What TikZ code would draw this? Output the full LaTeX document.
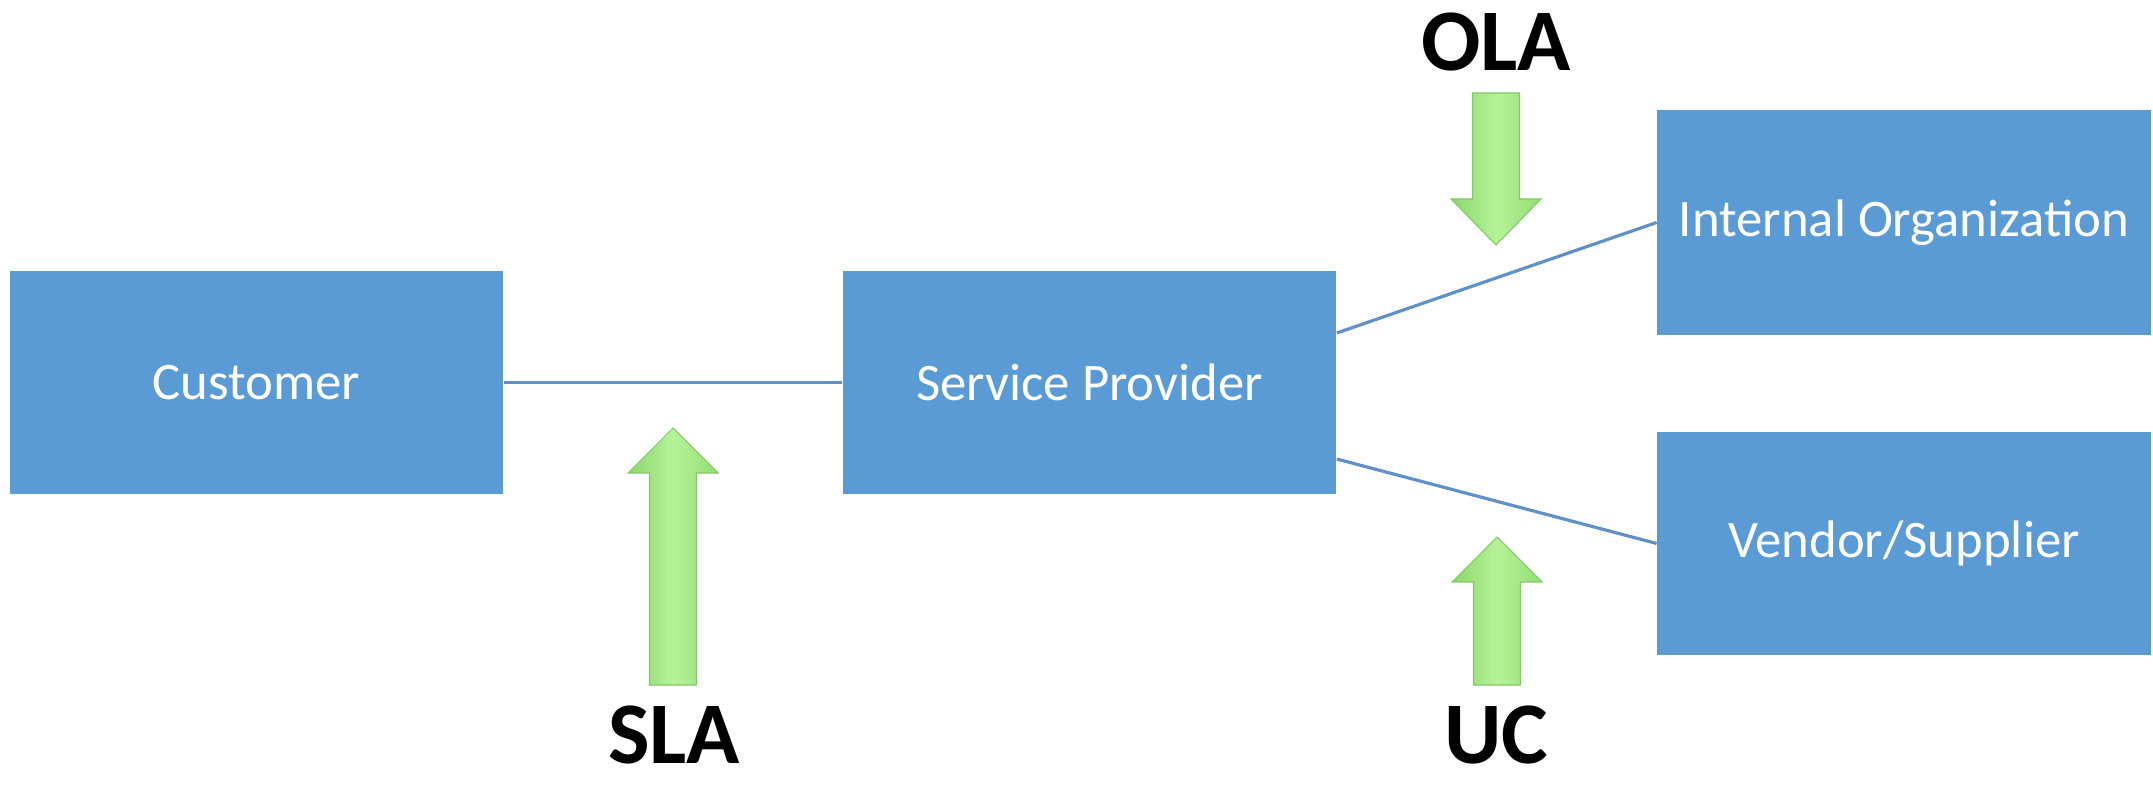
\documentclass[tikz,border=0pt]{standalone}
\usepackage{fontspec}
\setmainfont{Carlito}
\usetikzlibrary{calc}
\definecolor{boxblue}{RGB}{91,155,213}
\definecolor{lineblue}{RGB}{95,145,200}
\definecolor{gleft}{RGB}{138,216,108}
\definecolor{gmid}{RGB}{182,242,152}
\definecolor{gright}{RGB}{145,222,115}
\definecolor{gedge}{RGB}{130,200,105}
\tikzset{
  box/.style={draw=none, fill=boxblue, text=white, minimum width=4.93cm, minimum height=2.23cm, inner sep=0pt, font=\fontsize{15}{18}\selectfont},
  conn/.style={draw=lineblue, line width=0.9pt},
  garrow/.style={left color=gleft, right color=gright, middle color=gmid, draw=gedge, line width=0.3pt},
  lbl/.style={font=\fontsize{25}{30}\selectfont\bfseries, text=black, inner sep=0pt, anchor=base}
}
\begin{document}
\begin{tikzpicture}[x=0.01cm, y=-0.01cm]
\useasboundingbox (0,0) rectangle (2153,785);
\fill[white] (0,0) rectangle (2153,785);
% boxes
\node[box] (cust) at (256.5,382.5) {Customer};
\node[box] (sp) at (1089.5,382.5) {Service Provider};
\node[box, minimum height=2.25cm] (io) at (1904,222.5) {Internal Organization};
\node[box] (vs) at (1904,543.5) {Vendor/Supplier};
% connectors
\draw[conn] (cust.east) -- (sp.west);
\draw[conn] ([yshift=0.495cm]sp.east) -- (io.west);
\draw[conn] ([yshift=-0.765cm]sp.east) -- (vs.west);
% green arrows
\path[garrow] (649.5,685) -- (649.5,473) -- (628,473) -- (673,428) -- (718,473) -- (696.5,473) -- (696.5,685) -- cycle;
\path[garrow] (1473.5,685) -- (1473.5,582) -- (1452,582) -- (1497,537) -- (1542,582) -- (1520.5,582) -- (1520.5,685) -- cycle;
\path[garrow] (1472.5,93) -- (1472.5,199) -- (1451,199) -- (1496,245) -- (1541,199) -- (1519.5,199) -- (1519.5,93) -- cycle;
% labels
\node[lbl] (sla) at (674,763) {SLA};
\node[lbl] (uc) at (1496,763) {UC};
\node[lbl] (ola) at (1496,71) {OLA};
\end{tikzpicture}
\end{document}
